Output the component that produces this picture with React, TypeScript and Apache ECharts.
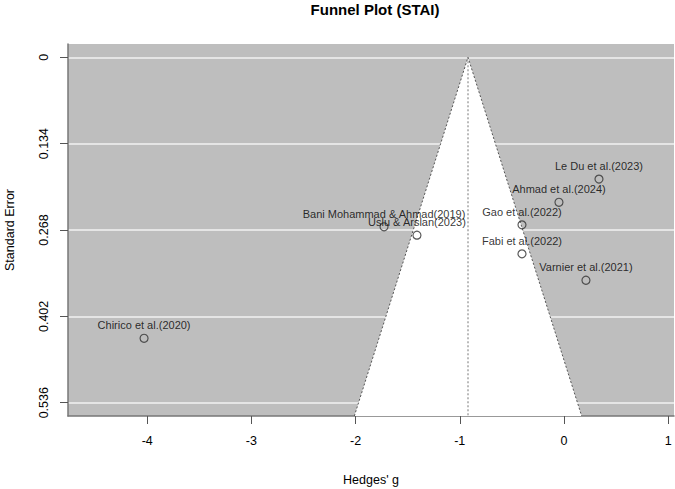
import React, { useEffect, useRef } from "react";
import * as echarts from "echarts";

const studies = [
  "Le Du et al.(2023)",
  "Ahmad et al.(2024)",
  "Gao et al.(2022)",
  "Fabi et al.(2022)",
  "Varnier et al.(2021)",
  "Bani Mohammad & Ahmad(2019)",
  "Uslu & Arslan(2023)",
  "Chirico et al.(2020)",
];
const hedgesG = [0.336, -0.048, -0.403, -0.403, 0.211, -1.727, -1.411, -4.03];
const standardError = [0.189, 0.225, 0.26, 0.305, 0.346, 0.263, 0.276, 0.436];
const pooledEstimate = -0.921;
const xTicks = [-4, -3, -2, -1, 0, 1];
const yTicks = [0, 0.134, 0.268, 0.402, 0.536];

const X_MIN = -4.76;
const X_MAX = 1.056;
const Y_MIN = -0.0206;
const Y_MAX = 0.5566;
const FONT = "'Liberation Sans', Arial, Helvetica, sans-serif";

export default function App() {
  const ref = useRef<HTMLDivElement>(null);
  useEffect(() => {
    if (!ref.current) return;
    const chart = echarts.init(ref.current, undefined, { renderer: "svg" });
    const z = 1.96;
    const funnelPts = [
      [pooledEstimate - z * Y_MAX, Y_MAX],
      [pooledEstimate, 0],
      [pooledEstimate + z * Y_MAX, Y_MAX],
    ];
    chart.setOption({
      animation: false,
      title: {
        text: "Funnel Plot (STAI)",
        left: 370,
        top: -3,
        textAlign: "center",
        textStyle: { fontFamily: FONT, fontSize: 15, fontWeight: "bold", color: "#000" },
      },
      grid: {
        left: 68,
        right: 1,
        top: 44,
        bottom: 73,
        containLabel: false,
        outerBoundsMode: "none",
        show: true,
        backgroundColor: "#BEBEBE",
        borderWidth: 0,
      },
      xAxis: {
        type: "value",
        min: X_MIN,
        max: X_MAX,
        name: "Hedges' g",
        nameLocation: "middle",
        nameGap: 57,
        nameTextStyle: { fontFamily: FONT, fontSize: 12.5, color: "#000" },
        axisLine: { show: true, onZero: false, lineStyle: { color: "#777", width: 1.5 } },
        axisTick: { show: true, customValues: xTicks, length: 8, lineStyle: { color: "#555", width: 1 } },
        axisLabel: {
          customValues: xTicks,
          margin: 18,
          fontFamily: FONT,
          fontSize: 12.5,
          color: "#000",
          formatter: (v: number) => String(v),
        },
        splitLine: { show: false },
      },
      yAxis: {
        type: "value",
        inverse: true,
        min: Y_MIN,
        max: Y_MAX,
        name: "Standard Error",
        nameLocation: "middle",
        nameGap: 52,
        nameRotate: 90,
        nameTextStyle: { fontFamily: FONT, fontSize: 12.5, color: "#000" },
        axisLine: { show: true, onZero: false, lineStyle: { color: "#777", width: 1.5 } },
        axisTick: { show: true, customValues: yTicks, length: 8, lineStyle: { color: "#555", width: 1 } },
        axisLabel: {
          customValues: yTicks,
          margin: 18,
          rotate: 90,
          fontFamily: FONT,
          fontSize: 12.5,
          color: "#000",
          formatter: (v: number) => String(v),
        },
        splitLine: { show: true, lineStyle: { color: "#F2F2F2", width: 1.5 } },
      },
      series: [
        {
          type: "custom",
          z: 1,
          silent: true,
          data: [0],
          renderItem: (params: any, api: any) => {
            const pts = funnelPts.map((p) => api.coord(p));
            return {
              type: "polygon",
              shape: { points: pts },
              style: { fill: "#FFFFFF", stroke: "none" },
            };
          },
        },
        {
          type: "line",
          z: 2,
          silent: true,
          symbol: "none",
          data: funnelPts,
          lineStyle: { color: "#555", width: 1, type: [2, 2] },
        },
        {
          type: "line",
          z: 2,
          silent: true,
          symbol: "none",
          data: [
            [pooledEstimate, 0],
            [pooledEstimate, Y_MAX],
          ],
          lineStyle: { color: "#777", width: 1, type: [2, 2] },
        },
        {
          type: "scatter",
          z: 3,
          symbol: "circle",
          symbolSize: 8,
          data: hedgesG.map((g, i) => ({ value: [g, standardError[i]], name: studies[i] })),
          itemStyle: { color: "rgba(0,0,0,0)", borderColor: "#333", borderWidth: 1.2 },
          label: {
            show: true,
            position: "top",
            distance: 3,
            formatter: (p: any) => p.name,
            fontFamily: FONT,
            fontSize: 11,
            color: "#000",
            textBorderWidth: 0,
          },
        },
      ],
    });
    return () => chart.dispose();
  }, []);
  return <div ref={ref} style={{ width: 675, height: 489, position: "absolute", left: 0, top: 0 }} />;
}
